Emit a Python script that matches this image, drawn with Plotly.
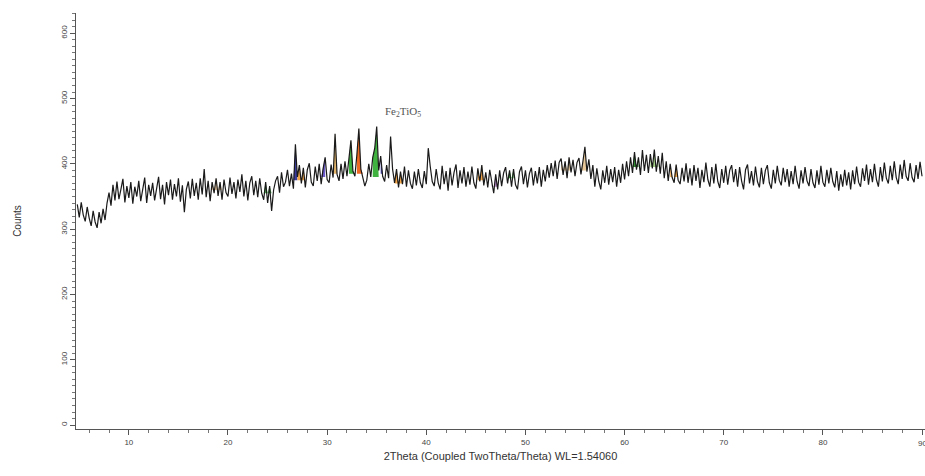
import numpy as np
import plotly.graph_objects as go

# Powder XRD scan: counts on a 0.2 deg 2-theta grid starting at 4.8 deg
start_2theta = 4.8
step_2theta = 0.2
counts = [
    338, 318, 341, 322, 312, 334, 317, 305, 328, 311,
    302, 326, 309, 331, 314, 340, 356, 336, 368, 344,
    373, 346, 361, 377, 341, 366, 348, 372, 339, 365,
    350, 374, 343, 362, 379, 340, 368, 351, 371, 344,
    366, 380, 346, 368, 338, 372, 352, 376, 345, 369,
    350, 378, 342, 367, 326, 361, 373, 347, 377, 351,
    371, 345, 378, 353, 392, 349, 374, 343, 372, 355,
    378, 351, 372, 345, 376, 356, 350, 379, 354, 372,
    347, 376, 357, 384, 350, 374, 344, 371, 381, 352,
    374, 349, 378, 355, 345, 372, 340, 366, 328, 360,
    374, 381, 356, 387, 365, 372, 391, 366, 385, 362,
    430, 380, 398, 370, 394, 364, 391, 401, 372, 366,
    396, 374, 400, 369, 393, 410, 376, 371, 399, 379,
    446, 384, 374, 400, 377, 404, 381, 408, 436, 389,
    381, 414, 454, 392, 380, 366, 375, 400, 380, 410,
    424, 457, 390, 412, 381, 373, 398, 378, 442, 392,
    371, 392, 364, 388, 369, 396, 365, 390, 370, 362,
    388, 367, 392, 371, 363, 389, 369, 424, 396, 373,
    366, 392, 371, 361, 397, 369, 389, 359, 394, 367,
    387, 399, 363, 390, 370, 395, 365, 388, 368, 396,
    371, 362, 393, 373, 398, 367, 387, 364, 391, 369,
    355, 384, 361, 390, 366, 386, 395, 370, 390, 365,
    392, 368, 361, 388, 396, 369, 390, 364, 385, 394,
    367, 389, 370, 395, 365, 391, 373, 398, 379, 401,
    381, 405, 377, 402, 408, 383, 404, 378, 410, 387,
    406, 381, 402, 409, 384, 404, 426, 388, 407, 377,
    398, 365, 393, 373, 361, 390, 371, 397, 368, 392,
    372, 395, 365, 391, 371, 400, 376, 404, 381, 410,
    386, 418, 391, 410, 383, 421, 389, 414, 386, 415,
    393, 422, 388, 412, 385, 417, 378, 404, 374, 400,
    379, 371, 399, 375, 369, 394, 373, 401, 371, 393,
    367, 398, 374, 394, 363, 391, 372, 402, 376, 365,
    395, 370, 400, 373, 363, 392, 371, 397, 368, 390,
    398, 372, 392, 365, 395, 374, 361, 391, 399, 370,
    389, 367, 396, 373, 364, 394, 369, 390, 398, 371,
    362, 391, 370, 397, 375, 367, 394, 372, 392, 365,
    389, 369, 397, 373, 362, 390, 370, 395, 374, 366,
    392, 371, 363, 390, 368, 397, 372, 365, 391, 370,
    394, 373, 364, 389, 359, 384, 365, 391, 367, 387,
    361, 390, 369, 396, 372, 365, 393, 374, 399, 368,
    392, 372, 400, 376, 365, 395, 373, 402, 378, 370,
    397, 375, 404, 379, 369, 399, 377, 406, 381, 374,
    401, 379, 372, 398, 377, 403, 381,
]

# Phase-highlighted peak regions: (from, to, base counts, fill colour)
peak_from = [18.4, 23.4, 26.6, 27.0, 29.4, 30.6, 32.2, 33.0, 34.6, 35.4, 36.8, 45.2, 46.6, 48.2, 53.6, 55.6, 60.8, 62.6, 64.6]
peak_to   = [19.4, 24.4, 27.0, 27.8, 29.8, 31.2, 32.8, 33.6, 35.2, 35.8, 37.6, 45.8, 47.2, 48.8, 54.6, 56.2, 61.4, 63.4, 65.4]
peak_base = [360, 355, 375, 375, 380, 385, 385, 385, 380, 385, 370, 375, 365, 378, 390, 390, 395, 395, 380]
peak_color = ["#f6d3a8", "#4caf50", "#3b3b9e", "#f2a64a", "#6a5acd", "#e2b46a", "#3fb23f", "#ee6a22",
              "#3fb23f", "#4a4ab0", "#f2a64a", "#f2a64a", "#b78ac8", "#3fb23f", "#e8c898", "#e8c898",
              "#2e8b2e", "#a8d48a", "#f2a64a"]

two_theta = np.round(start_2theta + step_2theta * np.arange(len(counts)), 1)
y = np.array(counts, dtype=float)

fig = go.Figure()

for x0, x1, base, col in zip(peak_from, peak_to, peak_base, peak_color):
    m = (two_theta >= x0 - 1e-9) & (two_theta <= x1 + 1e-9)
    xs = two_theta[m]
    ys = np.maximum(y[m], base)
    poly_x = list(xs) + list(xs[::-1])
    poly_y = list(ys) + [base] * len(xs)
    fig.add_trace(go.Scatter(x=poly_x, y=poly_y, mode="lines", fill="toself",
                             fillcolor=col, line=dict(width=0, color=col),
                             hoverinfo="skip", showlegend=False))

fig.add_trace(go.Scatter(x=two_theta, y=y, mode="lines",
                         line=dict(color="#1a1a1a", width=1.2),
                         showlegend=False))

fig.add_annotation(x=37.7, y=480, text="Fe<sub>2</sub>TiO<sub>5</sub>", showarrow=False,
                   font=dict(family="Liberation Serif", size=11, color="#555555"))

axis_font = dict(family="Liberation Sans", size=8, color="#444444")

# last x tick label sits on the right page edge; plotly drops it, so place it directly
fig.add_annotation(x=90, xref="x", y=0, yref="paper", yanchor="top", yshift=-8,
                   text="90", showarrow=False, font=axis_font)

fig.update_layout(
    width=925, height=476,
    margin=dict(l=76, r=0, t=13, b=47),
    paper_bgcolor="white", plot_bgcolor="white",
    font=dict(family="Liberation Sans", color="#333333"),
    xaxis=dict(
        range=[4.67, 90.3], tickmode="linear", tick0=10, dtick=10,
        showgrid=False, zeroline=False, showline=True, linecolor="#555555", linewidth=1,
        ticks="outside", ticklen=5, tickcolor="#555555", tickfont=axis_font,
        minor=dict(dtick=2, tick0=0, ticks="outside", ticklen=3, tickcolor="#777777"),
        title=dict(text="2Theta (Coupled TwoTheta/Theta) WL=1.54060",
                   font=dict(family="Liberation Sans", size=11, color="#333333"), standoff=6),
    ),
    yaxis=dict(
        range=[-6, 631], tickmode="linear", tick0=0, dtick=100, tickangle=-90,
        showgrid=False, zeroline=False, showline=True, linecolor="#555555", linewidth=1,
        ticks="outside", ticklen=5, tickcolor="#555555", tickfont=axis_font,
        minor=dict(dtick=10, tick0=0, ticks="outside", ticklen=3, tickcolor="#777777"),
        title=dict(text="Counts", font=dict(family="Liberation Sans", size=10, color="#333333"),
                   standoff=36),
    ),
)

fig.write_html("out.html")
